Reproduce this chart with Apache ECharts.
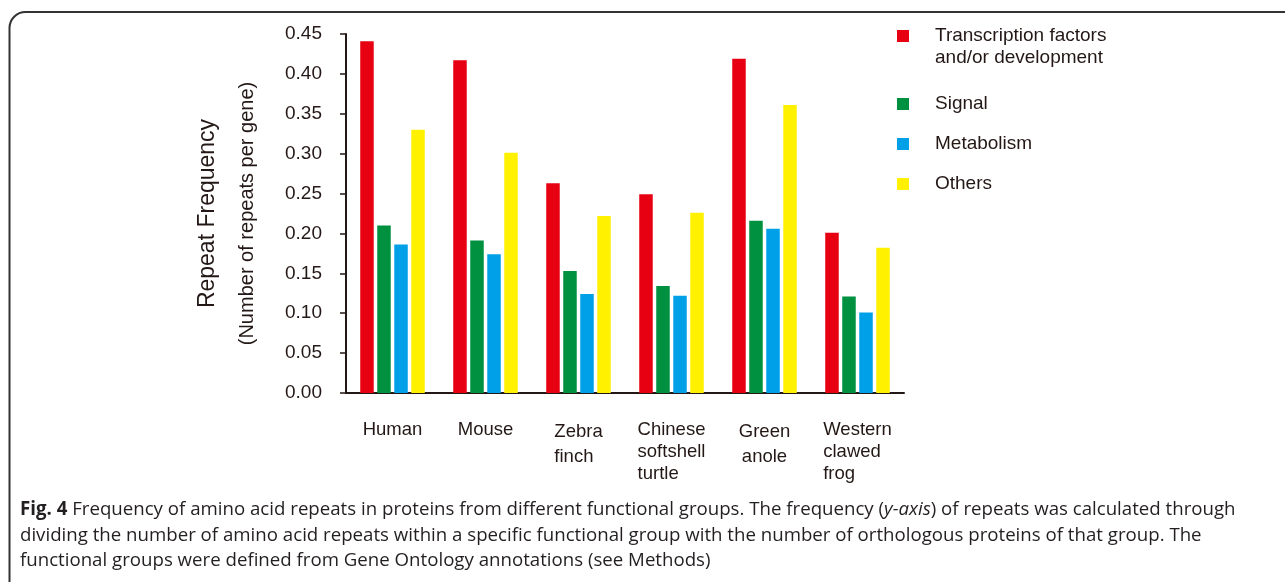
<!DOCTYPE html>
<html>
<head>
<meta charset="utf-8">
<script src="https://cdn.jsdelivr.net/npm/echarts@6/dist/echarts.min.js"></script>
<style>html,body{margin:0;padding:0;background:#fff}#c{width:1285px;height:582px}</style>
</head>
<body>
<div id="c"></div>
<script>
const categories = ['Human', 'Mouse', 'Zebra finch', 'Chinese softshell turtle', 'Green anole', 'Western clawed frog'];
const seriesNames = ['Transcription factors and/or development', 'Signal', 'Metabolism', 'Others'];
const transcription = [0.441, 0.417, 0.263, 0.249, 0.419, 0.201];
const signal = [0.210, 0.191, 0.153, 0.134, 0.216, 0.121];
const metabolism = [0.186, 0.174, 0.124, 0.122, 0.206, 0.101];
const others = [0.330, 0.301, 0.222, 0.226, 0.361, 0.182];
const yTicks = { min: 0, max: 0.45, interval: 0.05 };

const captionLines = [
  ['Fig. 4', ' Frequency of amino acid repeats in proteins from different functional groups. The frequency (', 'y-axis', ') of repeats was calculated through'],
  'dividing the number of amino acid repeats within a specific functional group with the number of orthologous proteins of that group. The',
  'functional groups were defined from Gene Ontology annotations (see Methods)'
];

const colors = ['#E60012', '#009140', '#00A0E9', '#FFF100'];
const TXT = '#231815';
const FONT = '"Liberation Sans", Arial, sans-serif';
const CAP_FONT = '"Open Sans", "Noto Sans", sans-serif';

// fit caption font so that the first line spans the figure width
const mctx = document.createElement('canvas').getContext('2d');
function lineWidth(sz) {
  const l = captionLines[0];
  mctx.font = 'bold ' + sz + 'px ' + CAP_FONT; let w = mctx.measureText(l[0]).width;
  mctx.font = sz + 'px ' + CAP_FONT; w += mctx.measureText(l[1]).width + mctx.measureText(l[3]).width;
  mctx.font = 'italic ' + sz + 'px ' + CAP_FONT; w += mctx.measureText(l[2]).width;
  return w;
}
const capSize = Math.min(20, Math.max(15, 18 * 1217 / lineWidth(18)));

const labelFmt = {
  'Human': '{s|Human}',
  'Mouse': '{s|Mouse}',
  'Zebra finch': '{l2|Zebra}\n{l2|finch}',
  'Chinese softshell turtle': '{l3|Chinese}\n{l3|softshell}\n{l3|turtle}',
  'Green anole': '{c2|Green}\n{c2|anole}',
  'Western clawed frog': '{l3|Western}\n{l3|clawed}\n{l3|frog}'
};

const chart = echarts.init(document.getElementById('c'), null, { renderer: 'canvas' });
const data = [transcription, signal, metabolism, others];
const legendTops = [26, 94, 134, 174];

const option = {
  animation: false,
  textStyle: { fontFamily: FONT },
  grid: { left: 346, right: 381, top: 34, bottom: 189, containLabel: false },
  legend: seriesNames.map((n, i) => ({
    data: [n],
    orient: 'vertical',
    left: 897,
    top: legendTops[i],
    padding: 0,
    itemWidth: 12,
    itemHeight: 12,
    icon: 'rect',
    formatter: i === 0 ? () => 'Transcription factors' : null,
    textStyle: { fontFamily: FONT, fontSize: 19, color: TXT, lineHeight: 20, padding: [0, 0, 0, 21] }
  })),
  xAxis: {
    type: 'category',
    data: categories,
    axisLine: { lineStyle: { color: TXT, width: 2 } },
    axisTick: { inside: true, length: 6, lineStyle: { color: TXT, width: 1.5 } },
    axisLabel: {
      margin: 26,
      color: TXT,
      interval: 0,
      formatter: v => labelFmt[v],
      rich: {
        s: { fontFamily: FONT, fontSize: 18.5, color: TXT, lineHeight: 22 },
        l2: { fontFamily: FONT, fontSize: 18.5, color: TXT, lineHeight: 25, align: 'left' },
        l3: { fontFamily: FONT, fontSize: 18.5, color: TXT, lineHeight: 22, align: 'left' },
        c2: { fontFamily: FONT, fontSize: 18.5, color: TXT, lineHeight: 25, align: 'center' }
      }
    }
  },
  yAxis: {
    type: 'value',
    min: yTicks.min,
    max: yTicks.max,
    interval: yTicks.interval,
    name: '{a|Repeat Frequency}\n{b|(Number of repeats per gene)}',
    nameLocation: 'middle',
    nameRotate: 90,
    nameGap: 86,
    nameTextStyle: {
      rich: {
        a: { fontFamily: FONT, fontSize: 23, color: TXT, lineHeight: 52 },
        b: { fontFamily: FONT, fontSize: 20, color: TXT, lineHeight: 26 }
      }
    },
    axisLine: { show: true, lineStyle: { color: TXT, width: 2 } },
    axisTick: { show: true, inside: false, length: 6, lineStyle: { color: TXT, width: 1.5 } },
    splitLine: { show: false },
    axisLabel: { margin: 24, color: TXT, fontSize: 19, fontFamily: FONT, formatter: v => v.toFixed(2) }
  },
  series: seriesNames.map((n, i) => ({
    name: n,
    type: 'bar',
    data: data[i],
    barWidth: 13.5,
    barGap: '26%',
    itemStyle: { color: colors[i] }
  })),
  graphic: [
    {
      type: 'rect',
      shape: { x: 9.5, y: 12, width: 1400, height: 700, r: 16 },
      style: { fill: 'none', stroke: '#333', lineWidth: 2 },
      silent: true
    },
    {
      type: 'text',
      left: 935,
      top: 48,
      style: { text: 'and/or development', fontFamily: FONT, fontSize: 19, fill: TXT }
    },
    {
      type: 'text',
      left: 20,
      top: 497,
      style: {
        text: '{b|' + captionLines[0][0] + '}' + captionLines[0][1] + '{i|' + captionLines[0][2] + '}' + captionLines[0][3] + '\n' +
              captionLines[1] + '\n' + captionLines[2],
        fontFamily: CAP_FONT,
        fontSize: capSize,
        lineHeight: 25.5,
        fill: '#231f20',
        rich: {
          b: { fontFamily: CAP_FONT, fontSize: capSize, fontWeight: 'bold', lineHeight: 25.5, fill: '#231f20' },
          i: { fontFamily: CAP_FONT, fontSize: capSize, fontStyle: 'italic', lineHeight: 25.5, fill: '#231f20' }
        }
      }
    }
  ]
};
chart.setOption(option);
</script>
</body>
</html>
